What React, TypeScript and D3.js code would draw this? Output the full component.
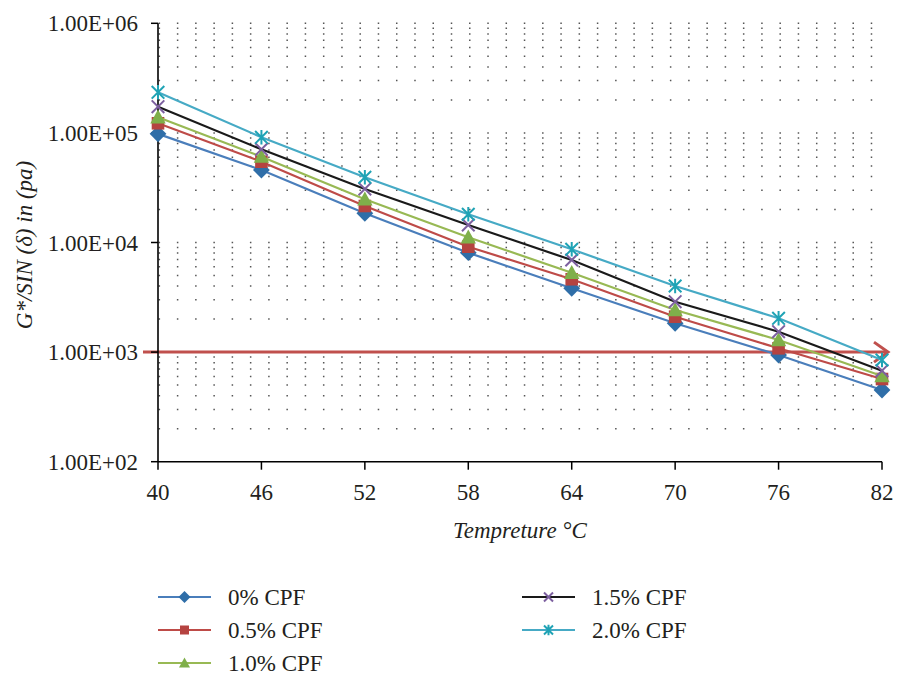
import React from "react";
import * as d3 from "d3";

const temps = [40, 46, 52, 58, 64, 70, 76, 82];
const seriesNames = ["0% CPF", "0.5% CPF", "1.0% CPF", "1.5% CPF", "2.0% CPF"];
const cpf0 = [98000, 45800, 18460, 8070, 3820, 1832, 941, 451];
const cpf05 = [122400, 54600, 21530, 9160, 4620, 2104, 1083, 568];
const cpf10 = [138800, 60700, 24800, 11150, 5300, 2422, 1290, 605];
const cpf15 = [173400, 70800, 30800, 14450, 6920, 2884, 1536, 677];
const cpf20 = [234600, 91200, 39400, 18100, 8670, 4010, 2034, 847];
const yTickLabels = ["1.00E+02", "1.00E+03", "1.00E+04", "1.00E+05", "1.00E+06"];
const yTickValues = [1e2, 1e3, 1e4, 1e5, 1e6];
const limitValue = 1000;

const W = 897;
const H = 676;
const FONT = "'Liberation Serif', 'DejaVu Serif', serif";

const lineColors = ["#4A7EBB", "#BE4B48", "#98B954", "#1a1a1a", "#46AAC5"];
const markerColors = ["#2F6EA8", "#B54340", "#7FAF4A", "#7D60A0", "#1FA3B5"];
const markerTypes = ["diamond", "square", "triangle", "x", "star"];

function Marker({ type, x, y, color, s }: { type: string; x: number; y: number; color: string; s: number }) {
  if (type === "diamond") {
    const r = s * 0.6;
    return <path d={`M${x},${y - r}L${x + r},${y}L${x},${y + r}L${x - r},${y}Z`} fill={color} />;
  }
  if (type === "square") {
    const r = s * 0.45;
    return <rect x={x - r} y={y - r} width={2 * r} height={2 * r} fill={color} />;
  }
  if (type === "triangle") {
    const r = s * 0.55;
    return <path d={`M${x},${y - r}L${x + r},${y + r * 0.8}L${x - r},${y + r * 0.8}Z`} fill={color} />;
  }
  if (type === "x") {
    const r = s * 0.45;
    return (
      <path d={`M${x - r},${y - r}L${x + r},${y + r}M${x - r},${y + r}L${x + r},${y - r}`} stroke={color} strokeWidth={2} fill="none" />
    );
  }
  const r = s * 0.45;
  return (
    <path
      d={`M${x - r},${y - r}L${x + r},${y + r}M${x - r},${y + r}L${x + r},${y - r}M${x},${y - r * 1.15}L${x},${y + r * 1.15}`}
      stroke={color}
      strokeWidth={2}
      fill="none"
    />
  );
}

export default function App() {
  const series = [cpf0, cpf05, cpf10, cpf15, cpf20];
  const x = d3.scaleLinear().domain([40, 82]).range([158, 882]);
  const y = d3.scaleLog().domain([1e2, 1e6]).range([461.7, 23.3]);

  const gridVals: number[] = [];
  for (let e = 2; e <= 5; e++) {
    for (let m = 1; m <= 9; m++) {
      const v = m * Math.pow(10, e);
      if (v > 1e2) gridVals.push(v);
    }
  }
  gridVals.push(1e6);

  const line = d3
    .line<number>()
    .x((_, i) => x(temps[i]))
    .y((d) => y(d));

  const limitY = y(limitValue);
  const x0 = x(40);
  const x1 = x(82);

  const legendItems = seriesNames.map((name, i) => {
    const col = i < 3 ? 0 : 1;
    const row = i < 3 ? i : i - 3;
    return { name, i, lx: col === 0 ? 158 : 522, ly: 597 + row * 33 };
  });

  return (
    <svg width={W} height={H} style={{ position: "absolute", left: 0, top: 0, background: "#fff" }} fontFamily={FONT}>
      <rect x={0} y={0} width={W} height={H} fill="#fff" />
      {gridVals.map((v) => (
        <line
          key={v}
          x1={x0 + 0.6}
          x2={x1}
          y1={y(v)}
          y2={y(v)}
          stroke="#555"
          strokeWidth={1.5}
          strokeDasharray="1.5 16.76"
        />
      ))}
      <line x1={x0 - 15} x2={x1 + 5} y1={limitY} y2={limitY} stroke="#C0504D" strokeWidth={3} />
      <path
        d={`M${x1 - 8},${limitY - 10}L${x1 + 6},${limitY}L${x1 - 8},${limitY + 10}`}
        stroke="#C0504D"
        strokeWidth={3}
        fill="none"
      />
      <line x1={x0} x2={x0} y1={y(1e6)} y2={y(1e2)} stroke="#000" strokeWidth={1.6} />
      <line x1={x0} x2={x1} y1={y(1e2)} y2={y(1e2)} stroke="#000" strokeWidth={1.6} />
      {yTickValues.map((v, i) => (
        <g key={v}>
          <line x1={x0 - 7} x2={x0} y1={y(v)} y2={y(v)} stroke="#000" strokeWidth={1.5} />
          <text x={x0 - 20} y={y(v)} dy="0.35em" textAnchor="end" fontSize={23} fill="#231f20">
            {yTickLabels[i]}
          </text>
        </g>
      ))}
      {temps.map((t) => (
        <g key={t}>
          <line x1={x(t)} x2={x(t)} y1={y(1e2)} y2={y(1e2) + 8} stroke="#000" strokeWidth={1.5} />
          <text x={x(t)} y={500} textAnchor="middle" fontSize={23} fill="#231f20">
            {t}
          </text>
        </g>
      ))}
      <text x={520} y={538} textAnchor="middle" fontSize={23} fontStyle="italic" fill="#231f20">
        Tempreture °C
      </text>
      <text
        transform={`translate(32,245) rotate(-90)`}
        textAnchor="middle"
        fontSize={23}
        fontStyle="italic"
        fill="#231f20"
      >
        G*/SIN (δ) in (pa)
      </text>
      {series.map((vals, si) => (
        <g key={si}>
          <path d={line(vals) || ""} fill="none" stroke={lineColors[si]} strokeWidth={2.2} />
          {vals.map((v, i) => (
            <Marker key={i} type={markerTypes[si]} x={x(temps[i])} y={y(v)} color={markerColors[si]} s={14} />
          ))}
        </g>
      ))}
      {legendItems.map((it) => (
        <g key={it.name}>
          <line x1={it.lx} x2={it.lx + 53} y1={it.ly} y2={it.ly} stroke={lineColors[it.i]} strokeWidth={2.2} />
          <Marker type={markerTypes[it.i]} x={it.lx + 26.5} y={it.ly} color={markerColors[it.i]} s={10} />
          <text x={it.lx + 70} y={it.ly} dy="0.35em" fontSize={23} fill="#231f20">
            {it.name}
          </text>
        </g>
      ))}
    </svg>
  );
}
